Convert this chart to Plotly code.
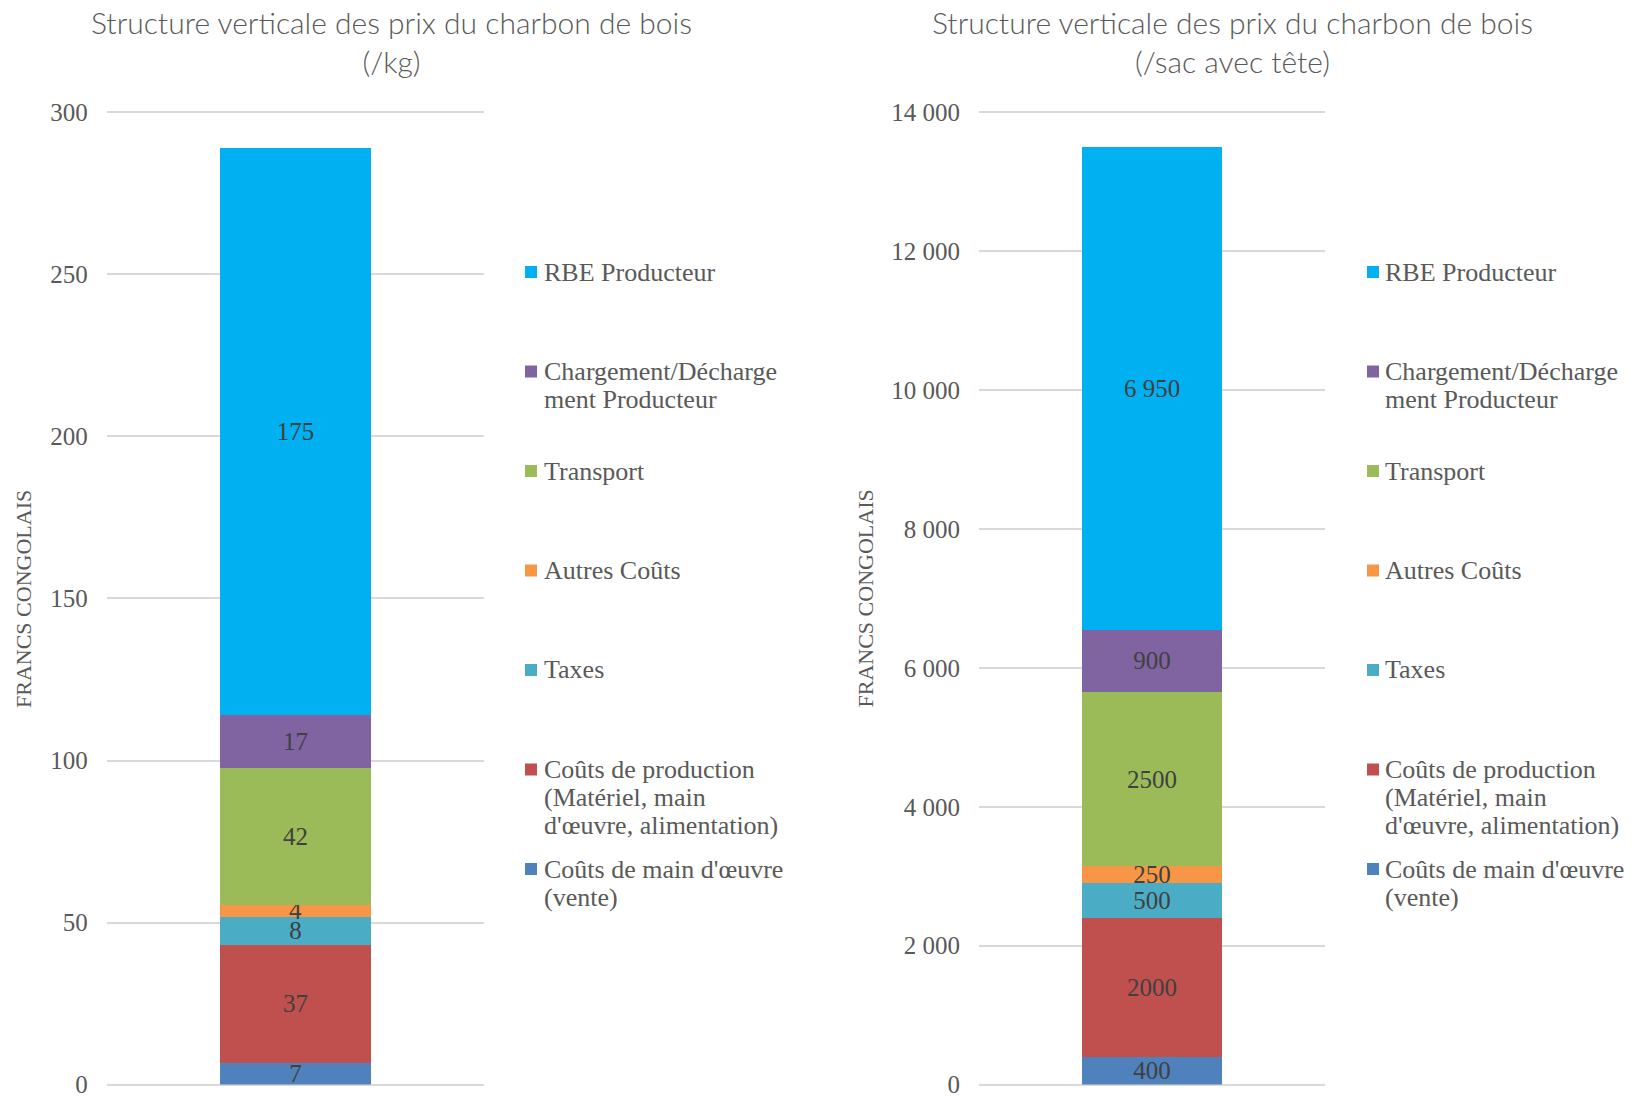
import plotly.graph_objects as go

W, H = 1633, 1096

# ---------------- data (bottom -> top of the stack) ----------------
categories = [
    "Coûts de main d'œuvre (vente)",
    "Coûts de production (Matériel, main d'œuvre, alimentation)",
    "Taxes",
    "Autres Coûts",
    "Transport",
    "Chargement/Déchargement Producteur",
    "RBE Producteur",
]
legend_lines = [
    ["Coûts de main d'œuvre", "(vente)"],
    ["Coûts de production", "(Matériel, main", "d'œuvre, alimentation)"],
    ["Taxes"],
    ["Autres Coûts"],
    ["Transport"],
    ["Chargement/Décharge", "ment Producteur"],
    ["RBE Producteur"],
]
colors = ["#4F81BD", "#C0504D", "#4BACC6", "#F79646", "#9BBB59", "#8064A2", "#00B0F0"]

values_kg = [6.7, 36.4, 8.7, 3.7, 42.2, 16.4, 175.0]
labels_kg = ["7", "37", "8", "4", "42", "17", "175"]

values_sac = [400, 2000, 500, 250, 2500, 900, 6950]
labels_sac = ["400", "2000", "500", "250", "2500", "900", "6 950"]

titles = [
    "Structure verticale des prix du charbon de bois<br>(/kg)",
    "Structure verticale des prix du charbon de bois<br>(/sac avec tête)",
]
y_title = "FRANCS CONGOLAIS"
x_cat = [""]

# ---------------- styling ----------------
SERIF = "Liberation Serif"
TITLE_FONT = "Lato"
GREY = "#595959"
GRID = "#D9D9D9"


def px(x):
    return x / W


def py(y):
    return 1 - y / H


fig = go.Figure()

for vals, labs, xa, ya in [(values_kg, labels_kg, "x", "y"), (values_sac, labels_sac, "x2", "y2")]:
    for name, v, t, c in zip(categories, vals, labs, colors):
        fig.add_trace(go.Bar(
            x=x_cat, y=[v], name=name, text=[t],
            marker=dict(color=c, line=dict(width=0)),
            textposition="inside", insidetextanchor="middle", textangle=0,
            textfont=dict(family=SERIF, size=25, color="#404040"),
            xaxis=xa, yaxis=ya, showlegend=False, hoverinfo="skip",
        ))

# plot area: 0 at y=1084.6 px, top gridline at y=112.3 px -> 3.241 px per unit (left)
plot_top, plot_bot = 109.06, 1084.6
yaxis_common = dict(
    domain=[py(plot_bot), py(plot_top)],
    automargin=False,
    showgrid=True, gridcolor=GRID, gridwidth=1.5,
    zeroline=True, zerolinecolor=GRID, zerolinewidth=1.5,
    showline=False, ticks="", ticklabelstandoff=18,
    ticklabeloverflow="allow",
    tickfont=dict(family=SERIF, size=25, color=GREY),
)
xaxis_common = dict(showticklabels=False, showgrid=False, zeroline=False,
                    showline=False, ticks="", automargin=False)

fig.update_layout(
    width=W, height=H,
    margin=dict(l=0, r=0, t=0, b=0, pad=0, autoexpand=False),
    paper_bgcolor="white", plot_bgcolor="white",
    barmode="stack", bargap=0.598,
    separators=", ",
    uniformtext=dict(minsize=25, mode="show"),
    xaxis=dict(domain=[px(106.7), px(484.3)], anchor="y", **xaxis_common),
    xaxis2=dict(domain=[px(979), px(1325)], anchor="y2", **xaxis_common),
    yaxis=dict(range=[0, 301], dtick=50, tick0=0, anchor="x", **yaxis_common),
    yaxis2=dict(range=[0, 14047], dtick=2000, tick0=0, tickformat=",d", anchor="x2", **yaxis_common),
)

annotations = []
shapes = []

# titles
for title, cx in zip(titles, [391.6, 1232]):
    annotations.append(dict(
        text=title, x=px(cx), y=py(41.8), xref="paper", yref="paper",
        xanchor="center", yanchor="middle", showarrow=False,
        font=dict(family=TITLE_FONT, size=30, color=GREY, weight=300),
    ))

# y-axis titles
for cx in [23, 864.5]:
    annotations.append(dict(
        text=y_title, x=px(cx), y=py(599), xref="paper", yref="paper",
        xanchor="center", yanchor="middle", showarrow=False, textangle=-90,
        font=dict(family=SERIF, size=22, color=GREY),
    ))

# legends (top entry first)
legend_top, slot, line_step = 272, 99.5, 28.2
for marker_x, text_x in [(525, 542), (1367, 1383)]:
    for i, (lines, c) in enumerate(zip(legend_lines[::-1], colors[::-1])):
        y0 = legend_top + i * slot
        shapes.append(dict(
            type="rect", xref="paper", yref="paper",
            x0=px(marker_x), x1=px(marker_x + 12), y0=py(y0 - 6), y1=py(y0 + 6),
            fillcolor=c, line=dict(width=0),
        ))
        for j, ln in enumerate(lines):
            annotations.append(dict(
                text=ln, x=px(text_x), y=py(y0 + j * line_step), xref="paper", yref="paper",
                xanchor="left", yanchor="middle", showarrow=False,
                font=dict(family=SERIF, size=26, color=GREY),
            ))

fig.update_layout(annotations=annotations, shapes=shapes)

fig.write_html("out.html")
